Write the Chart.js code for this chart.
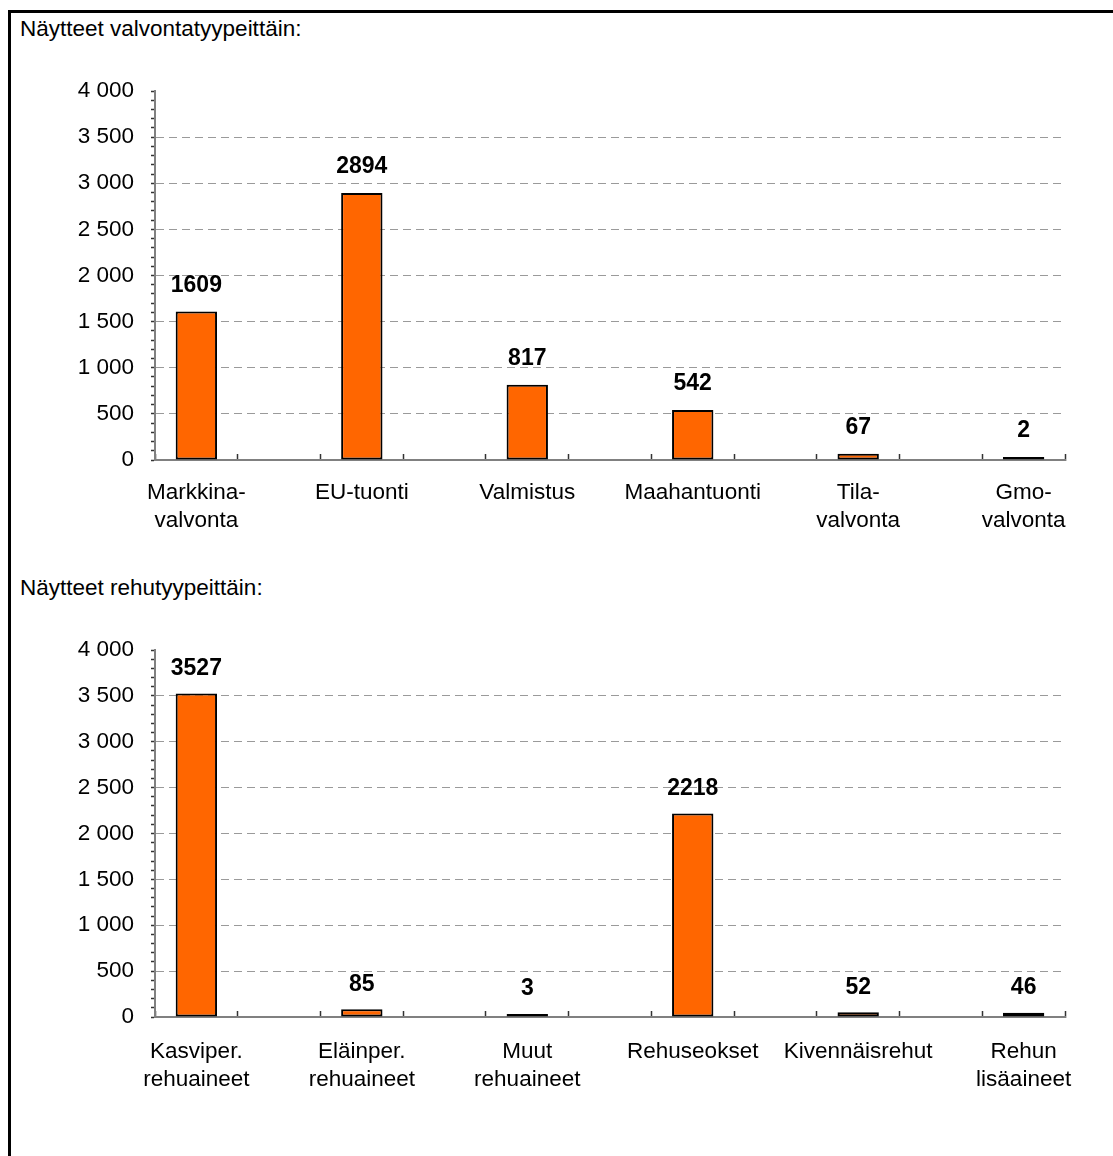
<!DOCTYPE html>
<html>
<head>
<meta charset="utf-8">
<script src="https://cdn.jsdelivr.net/npm/chart.js@4.4.0/dist/chart.umd.min.js"></script>
<style>
  html, body { margin: 0; padding: 0; background: #fff; }
  body { width: 1113px; height: 1156px; position: relative; overflow: hidden; font-family: 'Liberation Sans', Arial, sans-serif; }
  #frame { position: absolute; left: 8px; top: 10px; width: 1200px; height: 1300px; border-top: 3px solid #000; border-left: 3px solid #000; }
  .title { position: absolute; left: 20px; font-size: 22.5px; line-height: 26px; color: #000; white-space: nowrap; }
  canvas { position: absolute; left: 0; }
</style>
</head>
<body>
<div id="frame"></div>
<div class="title" style="top:16px;">Näytteet valvontatyypeittäin:</div>
<div class="title" style="top:575px;">Näytteet rehutyypeittäin:</div>
<canvas id="c1" width="1113" height="560" style="top:0;width:1113px;height:560px;"></canvas>
<canvas id="c2" width="1113" height="596" style="top:560px;width:1113px;height:596px;"></canvas>
<script>
// ---- data ----
const categories1 = [['Markkina-', 'valvonta'], 'EU-tuonti', 'Valmistus', 'Maahantuonti', ['Tila-', 'valvonta'], ['Gmo-', 'valvonta']];
const values1 = [1609, 2894, 817, 542, 67, 2];

const categories2 = [['Kasviper.', 'rehuaineet'], ['Eläinper.', 'rehuaineet'], ['Muut', 'rehuaineet'], 'Rehuseokset', 'Kivennäisrehut', ['Rehun', 'lisäaineet']];
const values2 = [3527, 85, 3, 2218, 52, 46];

const yTickValues = [0, 500, 1000, 1500, 2000, 2500, 3000, 3500, 4000];
const yMax = 4000;

// ---- helpers ----
const FONT = "'Liberation Sans', Arial, sans-serif";
Chart.defaults.font.family = FONT;
Chart.defaults.font.size = 22.5;
Chart.defaults.color = '#000';

function interleave(cats, vals) {
  const labels = [], data = [];
  cats.forEach((c, i) => {
    labels.push(c); data.push(vals[i]);
    if (i < cats.length - 1) { labels.push(''); data.push(null); }
  });
  return { labels, data };
}
function fmt(v) { return String(v).replace(/\B(?=(\d{3})+(?!\d))/g, ' '); }

const dataLabels = {
  id: 'dataLabels',
  afterDatasetsDraw(chart, args, opts) {
    const ctx = chart.ctx;
    const meta = chart.getDatasetMeta(0);
    const ds = chart.data.datasets[0].data;
    ctx.save();
    ctx.font = 'bold 23px ' + FONT;
    ctx.fillStyle = '#000';
    ctx.textAlign = 'center';
    ctx.textBaseline = 'middle';
    meta.data.forEach((el, i) => {
      if (ds[i] === null || ds[i] === undefined) return;
      ctx.fillText(String(ds[i]), el.x, el.y - opts.offset);
    });
    ctx.restore();
  }
};

function makeChart(id, cats, vals, padTop, xHeight, labelOffset, xPad) {
  const d = interleave(cats, vals);
  return new Chart(document.getElementById(id), {
    type: 'bar',
    data: {
      labels: d.labels,
      datasets: [{
        data: d.data,
        backgroundColor: '#FF6600',
        borderColor: '#000',
        borderWidth: 2,
        borderSkipped: false,
        minBarLength: 3,
        categoryPercentage: 1.0,
        barPercentage: 0.5
      }]
    },
    options: {
      responsive: false,
      animation: false,
      devicePixelRatio: 1,
      layout: { padding: { top: padTop, right: 48, left: 0, bottom: 0 } },
      plugins: { legend: { display: false }, tooltip: { enabled: false }, dataLabels: { offset: labelOffset } },
      scales: {
        x: {
          offset: true,
          grid: {
            offset: true,
            drawOnChartArea: false,
            drawTicks: true,
            tickLength: -6,
            tickColor: '#333',
            tickWidth: 1.5
          },
          border: { display: true, color: '#808080', width: 2 },
          ticks: {
            autoSkip: false, maxRotation: 0, minRotation: 0, padding: xPad,
            font: { size: 22.5, lineHeight: 1.245 }, color: '#000'
          },
          afterFit(scale) { scale.height = xHeight; }
        },
        y: {
          min: 0, max: yMax,
          afterBuildTicks(scale) {
            const t = [];
            for (let v = 0; v <= yMax; v += 100) t.push({ value: v });
            scale.ticks = t;
          },
          ticks: {
            autoSkip: false, padding: 17, color: '#000', font: { size: 22.5 },
            callback(v) { return yTickValues.includes(v) ? fmt(v) : ''; }
          },
          grid: {
            drawTicks: true,
            tickLength: 4,
            tickColor: '#333',
            tickWidth: 1.5,
            lineWidth: 1,
            color(ctx) {
              const v = ctx.tick ? ctx.tick.value : null;
              return (v !== null && v % 500 === 0 && v !== 0 && v !== yMax) ? '#9a9a9a' : 'rgba(0,0,0,0)';
            }
          },
          border: { display: true, color: '#808080', width: 2, dash: [8, 5] },
          afterFit(scale) { scale.width = 155; }
        }
      }
    },
    plugins: [dataLabels]
  });
}

makeChart('c1', categories1, values1, 91, 100, 26, 25);
makeChart('c2', categories2, values2, 90, 139, 25, 27);
</script>
</body>
</html>
